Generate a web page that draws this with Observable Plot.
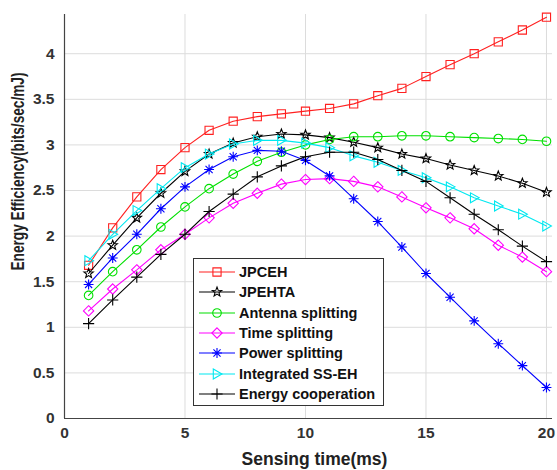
<!DOCTYPE html>
<html><head><meta charset="utf-8">
<script src="https://cdn.jsdelivr.net/npm/d3@7"></script>
<script src="https://cdn.jsdelivr.net/npm/@observablehq/plot@0.6"></script>
<style>
body{margin:0;background:#fff;}
#wrap{position:relative;width:557px;height:470px;}
#legend{position:absolute;left:193px;top:258px;width:189px;height:143px;border:1px solid #333;background:#fff;
 font-family:"Liberation Sans",Arial,sans-serif;font-weight:bold;font-size:14.5px;color:#111;padding-top:3px;box-sizing:content-box;}
#legend .row{height:20.3px;display:flex;align-items:center;}
#legend svg{width:40px;height:18px;margin-left:3px;margin-right:2px;flex:none;}
</style></head><body>
<div id="wrap"><div id="chart"></div><div id="legend"></div></div>
<script>
const sensingTime = [1,2,3,4,5,6,7,8,9,10,11,12,13,14,15,16,17,18,19,20];
const seriesNames = ["JPCEH","JPEHTA","Antenna splitting","Time splitting","Power splitting","Integrated SS-EH","Energy cooperation"];
const jpceh     = [1.68,2.09,2.43,2.73,2.97,3.16,3.26,3.31,3.34,3.37,3.40,3.45,3.54,3.62,3.75,3.88,4.00,4.13,4.26,4.40];
const jpehta    = [1.59,1.90,2.20,2.47,2.71,2.90,3.02,3.09,3.12,3.11,3.08,3.03,2.97,2.90,2.85,2.78,2.72,2.66,2.58,2.48];
const antenna   = [1.35,1.61,1.85,2.10,2.32,2.52,2.68,2.82,2.92,3.00,3.06,3.09,3.09,3.10,3.10,3.09,3.08,3.07,3.06,3.04];
const timeSplit = [1.18,1.42,1.63,1.85,2.02,2.20,2.36,2.47,2.57,2.62,2.63,2.60,2.54,2.43,2.31,2.20,2.08,1.90,1.77,1.61];
const powerSplit= [1.47,1.76,2.02,2.30,2.54,2.73,2.87,2.94,2.93,2.83,2.66,2.41,2.16,1.88,1.59,1.33,1.07,0.82,0.58,0.34];
const integrated= [1.73,2.02,2.28,2.52,2.75,2.90,3.01,3.05,3.05,3.02,2.97,2.88,2.81,2.72,2.64,2.54,2.42,2.33,2.24,2.11];
const energyCoop= [1.04,1.30,1.55,1.80,2.02,2.27,2.46,2.65,2.77,2.87,2.92,2.92,2.84,2.72,2.60,2.42,2.24,2.07,1.89,1.72];
const xTicks = [0,5,10,15,20];
const yTicks = [0,0.5,1,1.5,2,2.5,3,3.5,4];
const xLabel = "Sensing time(ms)";
const yLabel = "Energy Efficiency(bits/sec/mJ)";
const colors = ["#ff2020","#000000","#00e000","#ff00ff","#0000ff","#00e8f0","#000000"];

// custom MATLAB-like markers
const R = 4.3;
const sym = {
  square:{draw(c){const s=R*0.95;c.moveTo(-s,-s);c.lineTo(s,-s);c.lineTo(s,s);c.lineTo(-s,s);c.closePath();}},
  star:{draw(c){const ro=R*1.15, ri=ro*0.42;for(let i=0;i<10;i++){const r=i%2?ri:ro;const a=-Math.PI/2+i*Math.PI/5;const x=r*Math.cos(a),y=r*Math.sin(a);i?c.lineTo(x,y):c.moveTo(x,y);}c.closePath();}},
  circle:{draw(c){c.moveTo(R,0);c.arc(0,0,R,0,2*Math.PI);}},
  diamond:{draw(c){const s=R*1.2;c.moveTo(0,-s);c.lineTo(s,0);c.lineTo(0,s);c.lineTo(-s,0);c.closePath();}},
  asterisk:{draw(c){const s=R*1.15,d=s*0.72;c.moveTo(-s,0);c.lineTo(s,0);c.moveTo(0,-s);c.lineTo(0,s);c.moveTo(-d,-d);c.lineTo(d,d);c.moveTo(-d,d);c.lineTo(d,-d);}},
  triangle:{draw(c){const s=R*1.15;c.moveTo(s,0);c.lineTo(-s*0.75,-s);c.lineTo(-s*0.75,s);c.closePath();}},
  plus:{draw(c){const s=R*1.3;c.moveTo(-s,0);c.lineTo(s,0);c.moveTo(0,-s);c.lineTo(0,s);}}
};
const symbols = [sym.square,sym.star,sym.circle,sym.diamond,sym.asterisk,sym.triangle,sym.plus];
const values = [jpceh,jpehta,antenna,timeSplit,powerSplit,integrated,energyCoop];

const marks = [
  Plot.gridX(xTicks,{stroke:"#dcdcdc",strokeOpacity:1}),
  Plot.gridY(yTicks,{stroke:"#dcdcdc",strokeOpacity:1}),
  Plot.ruleX([0],{stroke:"#444",strokeWidth:1.2}),
  Plot.ruleY([0],{stroke:"#444",strokeWidth:1.2}),
  Plot.axisX(xTicks,{tickSize:0,tickPadding:8,fontSize:15.5,fill:"#333",tickFormat:d=>String(d),label:null}),
  Plot.axisY(yTicks,{tickSize:0,tickPadding:10,fontSize:15.5,fill:"#333",tickFormat:d=>String(d),label:null}),
  Plot.text([xLabel],{text:d=>d,frameAnchor:"bottom",dx:6,dy:41,textAnchor:"middle",lineAnchor:"middle",fontSize:17.5,fontWeight:"bold",fill:"#222"}),
  Plot.text([yLabel],{text:d=>d,frameAnchor:"left",rotate:-90,dx:-46,dy:-45,textAnchor:"middle",lineAnchor:"middle",fontSize:17.5,fontWeight:"bold",fill:"#222",className:"ylab"})
];
values.forEach((vals,i)=>{
  const data = sensingTime.map((t,j)=>({t,v:vals[j]}));
  marks.push(Plot.line(data,{x:"t",y:"v",stroke:colors[i],strokeWidth:1.1}));
  marks.push(Plot.dot(data,{x:"t",y:"v",stroke:colors[i],fill:"none",strokeWidth:1.1,symbol:()=>symbols[i],r:R}));
});

const chart = Plot.plot({
  width:557,height:470,marginLeft:64,marginRight:5,marginTop:14,marginBottom:52,
  x:{domain:[0,20.25]},
  y:{domain:[0,4.43]},
  style:{fontFamily:"'Liberation Sans',Arial,sans-serif",fontWeight:"bold",fontSize:"15px",color:"#262626",background:"#fff"},
  marks
});
document.getElementById("chart").append(chart);
// condense the rotated y label to the reference's length
d3.select(chart).selectAll(".ylab text").attr("textLength",198).attr("lengthAdjust","spacingAndGlyphs");

// legend
const leg = document.getElementById("legend");
seriesNames.forEach((name,i)=>{
  const row = document.createElement("div"); row.className="row";
  const p = d3.path(); symbols[i].draw(p);
  row.innerHTML = `<svg viewBox="0 0 40 18"><line x1="2" x2="38" y1="9" y2="9" stroke="${colors[i]}" stroke-width="1.1"/>`+
    `<path transform="translate(20,9)" d="${p.toString()}" fill="none" stroke="${colors[i]}" stroke-width="1.1"/></svg><span>${name}</span>`;
  leg.append(row);
});
</script>
</body></html>
